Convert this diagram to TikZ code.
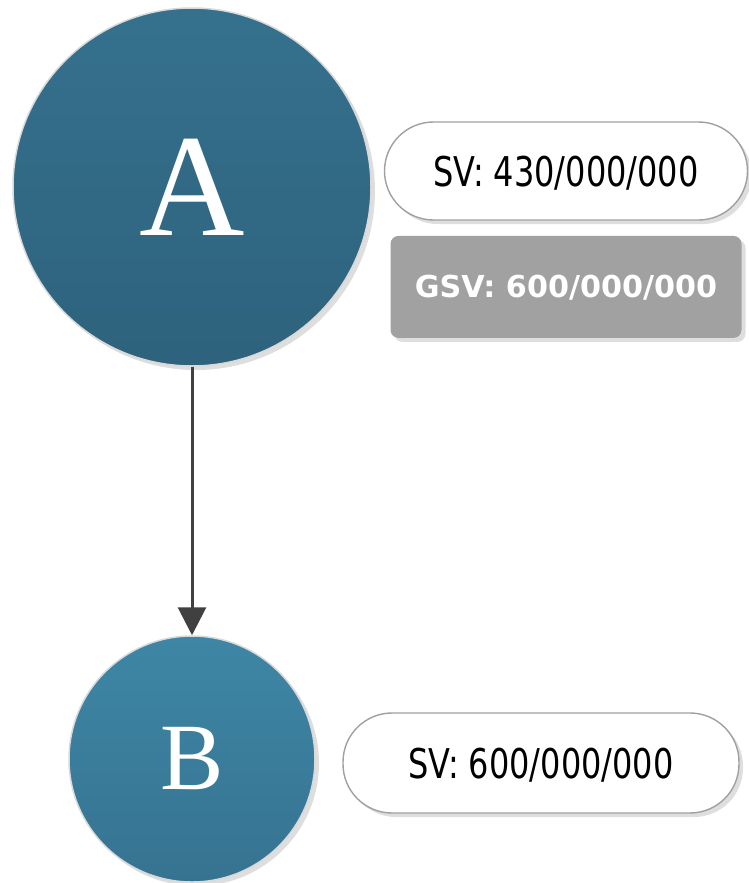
\documentclass[tikz,border=0pt]{standalone}
\usepackage{fontspec}
\usepackage{tikz}
\usetikzlibrary{arrows.meta,positioning}
\newfontfamily\valfont[FakeStretch=0.78]{DejaVu Sans}
\newfontfamily\gsvfont{DejaVu Sans}
\newfontfamily\letterfont{Liberation Serif}
\definecolor{atop}{HTML}{35718D}
\definecolor{abot}{HTML}{2E627D}
\definecolor{btop}{HTML}{3E86A5}
\definecolor{bbot}{HTML}{367391}
\definecolor{pillrim}{HTML}{A0A0A0}
\definecolor{gsvgray}{HTML}{A1A1A1}
\definecolor{edgegray}{HTML}{404040}

\begin{document}
\begin{tikzpicture}[
  x=1pt, y=-1pt,
  >={Triangle[length=28pt,width=28pt]},
  shd/.style={preaction={fill=black!13,
              transform canvas={shift={(4pt,-4pt)}}}},
  ball/.style={circle, shd, draw=black!15, line width=1.5pt,
               inner sep=0pt, text=white, font=\letterfont},
  pill/.style={shd, draw=pillrim, line width=1.4pt, fill=white,
               rounded corners=49pt, minimum height=98pt,
               inner sep=0pt, text height=30pt, text depth=0pt,
               font=\valfont\fontsize{41}{41}\selectfont},
  gsv/.style={shd, fill=gsvgray, rounded corners=8pt,
              minimum width=351pt, minimum height=102pt, inner sep=0pt,
              text=white, text height=22pt, text depth=0pt,
              font=\gsvfont\bfseries\fontsize{30.2}{30}\selectfont},
]
\useasboundingbox (0,0) rectangle (749,883);

% ===== nodes =====
\node[ball, minimum size=358pt, top color=atop, bottom color=abot,
      font=\letterfont\fontsize{146}{146}\selectfont] (A) at (192,187) {A};
\node[ball, minimum size=246pt, top color=btop, bottom color=bbot,
      font=\letterfont\fontsize{95}{95}\selectfont] (B) at (192,759) {B};

% ===== values =====
\node[pill, minimum width=363pt] (svA) at (566,171) {SV: 430/000/000};
\node[gsv, below=15pt of svA.south, anchor=north] (gsvA) {GSV: 600/000/000};
\node[pill, minimum width=396pt, minimum height=100pt] (svB) at (541,763)
  {SV: 600/000/000};

% ===== edge =====
\draw[->, draw=edgegray, fill=edgegray, line width=3pt] (A) -- (B);

\end{tikzpicture}
\end{document}
